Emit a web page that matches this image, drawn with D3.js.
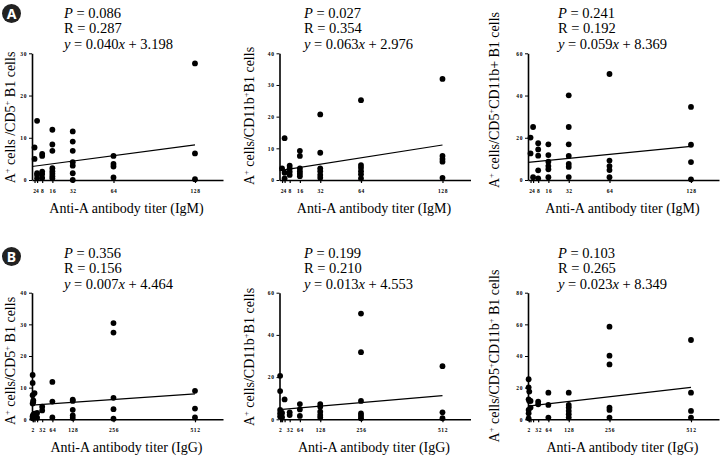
<!DOCTYPE html>
<html lang="en">
<head>
<meta charset="utf-8">
<script src="https://d3js.org/d3.v7.min.js"></script>
<style>
  body { margin: 0; background: #fff; }
  text { font-family: "Liberation Serif", "Times New Roman", serif; fill: #000; }
  .tick text { font-size: 5.5px; font-weight: bold; letter-spacing: 0.6px; }
</style>
</head>
<body>
<div id="chart"></div>
<script>
// ---- data ----
// panel A: IgM titer, panel B: IgG titer
var aTicks = [2, 4, 8, 16, 32, 64, 128];
var bTicks = [2, 4, 8, 16, 32, 64, 128, 256, 512];
var bTickLabels = [2, 32, 64, 128, 256, 512];

var a1Titer = [2,2,4,4,4,4,8,8,8,8,8,16,16,16,16,16,16,16,16,32,32,32,32,32,32,32,64,64,64,64,128,128,128];
var a1Cells = [7.7,5.0,14.0,1.6,1.2,0.4,6.2,5.7,2.0,1.4,0.5,11.9,8.4,6.9,2.8,2.1,1.5,0.9,0.4,11.5,9.1,6.9,4.2,3.4,1.6,0,5.7,3.8,3.2,0.6,27.6,6.3,0.2];

var a2Titer = [2,4,4,4,8,8,8,8,16,16,16,16,16,16,32,32,32,32,32,32,64,64,64,64,64,64,128,128,128,128,128];
var a2Cells = [3.7,13.2,2.3,0.5,4.5,3.7,2.6,1.6,9.2,7.6,3.7,2.8,2.0,1.2,20.7,8.6,3.7,2.8,1.6,0.7,25.2,4.7,3.9,2.8,1.8,0.5,31.9,7.6,6.6,5.8,0.7];

var a3Titer = [2,2,4,4,8,8,8,8,8,16,16,16,16,16,16,32,32,32,32,32,32,32,64,64,64,64,64,128,128,128,128];
var a3Cells = [20.1,12.6,25.1,1.3,17.4,14.5,11.5,4.6,0.8,16.9,11.8,8.7,6.6,5.1,1.3,40.1,25.1,16.9,11.4,7.6,6.2,1.4,50.2,9.2,6.6,4.7,1.3,34.6,16.7,8.5,0.3];

var b1Titer = [2,2,2,2,2,2,4,4,4,8,8,8,16,16,32,32,64,64,64,128,128,128,128,128,256,256,256,256,256,512,512,512];
var b1Cells = [14,11.5,7.6,5.0,1.0,0.3,6.0,5.5,1.5,8.3,1.8,0.8,2.0,0.5,4.0,2.8,11.8,5.6,0.6,6.2,5.8,3.0,1.2,0.4,30.4,27.4,6.8,3.2,0.2,9.0,3.4,0.6];

var b2Titer = [2,2,2,2,2,4,4,8,8,16,32,32,64,64,64,128,128,128,128,128,256,256,256,256,256,256,512,512,512];
var b2Cells = [20.6,13.4,4.4,2.8,1.3,3.6,2.0,3.0,1.0,9.4,3.3,2.0,7.2,4.7,1.6,7.2,6.0,3.6,2.0,0.9,50.1,31.8,8.7,2.8,1.7,0.5,25.2,3.3,0.5];

var b3Titer = [2,2,4,2,4,2,2,2,8,8,32,32,64,64,64,128,128,128,128,128,128,256,256,256,256,256,256,512,512,512,512];
var b3Cells = [25.3,20.2,17.5,12.6,11.6,5.9,3.8,0.6,11.6,7.4,11.2,9.5,16.8,9.1,1.1,16.8,9.1,7.4,5.3,3.2,1.1,58.5,40.2,34.7,7.4,5.9,1.1,50.1,16.8,5.3,1.1];

// regression stats printed on each panel
var pValues = ["0.086", "0.027", "0.241", "0.356", "0.199", "0.103"];
var rValues = ["0.287", "0.354", "0.192", "0.156", "0.210", "0.265"];
var slopes = [0.040, 0.063, 0.059, 0.007, 0.013, 0.023];
var intercepts = [3.198, 2.976, 8.369, 4.464, 4.553, 8.349];

var yMax = [30, 40, 60, 40, 60, 80];
var yStep = [10, 10, 20, 10, 20, 20];

// y axis titles: [text, superscript?] pieces
var yTitles = [
  [["A", 0], ["+", 1], [" cells /CD5", 0], ["+", 1], [" B1 cells", 0]],
  [["A", 0], ["+", 1], [" cells/CD11b", 0], ["+", 1], ["B1 cells", 0]],
  [["A", 0], ["+", 1], [" cells/CD5", 0], ["+", 1], ["CD11b+ B1 cells", 0]],
  [["A", 0], ["+", 1], [" cells/CD5", 0], ["+", 1], [" B1 cells", 0]],
  [["A", 0], ["+", 1], [" cells/CD11b", 0], ["+", 1], ["B1 cells", 0]],
  [["A", 0], ["+", 1], [" cells/CD5", 0], ["+", 1], ["CD11b", 0], ["+", 1], [" B1 cells", 0]]
];
var xTitles = ["Anti-A antibody titer (IgM)", "Anti-A antibody titer (IgG)"];

var titers = [a1Titer, a2Titer, a3Titer, b1Titer, b2Titer, b3Titer];
var cells = [a1Cells, a2Cells, a3Cells, b1Cells, b2Cells, b3Cells];

// ---- layout ----
var W = 721, H = 457;
var colLeft = [32, 279.5, 528];
var plotW = 191;
var rowTop = [53.3, 292.7], rowBottom = [180, 419.3];
var statX = [64, 304, 558];
var statBase = [18, 258];
var yTitleX = [15, 254, 499];
var yTitleCY = [[117.5, 116, 100], [361, 357, 356]];

var svg = d3.select("#chart").append("svg")
  .attr("width", W)
  .attr("height", H);

function drawPanel(p) {
  var row = Math.floor(p / 3), col = p % 3;
  var left = colLeft[col], pTop = rowTop[row], pBottom = rowBottom[row];

  var x = d3.scaleLinear()
    .domain([0, row == 0 ? 150 : 600])
    .range([left, left + plotW]);
  var y = d3.scaleLinear()
    .domain([0, yMax[p]])
    .range([pBottom, pTop]);

  var g = svg.append("g");

  // x axis
  var xAxis = d3.axisBottom(x)
    .tickValues(row == 0 ? aTicks : bTicks)
    .tickSizeInner(3).tickSizeOuter(0).tickPadding(6)
    .tickFormat(function (d) {
      if (row == 0) return d;
      return bTickLabels.indexOf(d) >= 0 ? d : "";
    });
  g.append("g")
    .attr("transform", "translate(0," + pBottom + ")")
    .call(xAxis)
    .call(function (s) {
      s.select(".domain").attr("stroke-width", 1.6);
      s.selectAll(".tick line").attr("stroke-width", 1.2);
    });

  // y axis
  var yAxis = d3.axisLeft(y)
    .tickValues(d3.range(0, yMax[p] + 0.01, yStep[p]))
    .tickSizeInner(3).tickSizeOuter(0).tickPadding(2);
  g.append("g")
    .attr("transform", "translate(" + left + ",0)")
    .call(yAxis)
    .call(function (s) {
      s.select(".domain").attr("stroke-width", 1.6);
      s.selectAll(".tick line").attr("stroke-width", 1);
    });

  // points
  var pts = titers[p].map(function (t, i) { return { t: t, v: cells[p][i] }; });
  g.append("g").selectAll("circle")
    .data(pts)
    .enter()
    .append("circle")
    .attr("cx", function (d) { return x(d.t); })
    .attr("cy", function (d) { return y(d.v); })
    .attr("r", 2.9)
    .attr("fill", "#000");

  // regression line
  var xEnd = row == 0 ? 128 : 512;
  var line = d3.line()
    .x(function (d) { return x(d); })
    .y(function (d) { return y(slopes[p] * d + intercepts[p]); });
  g.append("path")
    .datum([0, xEnd])
    .attr("d", line)
    .attr("fill", "none")
    .attr("stroke", "#000")
    .attr("stroke-width", 1.2);

  // stats text
  var sx = statX[col], sb = statBase[row];
  var t1 = g.append("text").attr("x", sx).attr("y", sb).style("font-size", "14.5px");
  t1.append("tspan").style("font-style", "italic").text("P");
  t1.append("tspan").text(" = " + pValues[p]);
  g.append("text").attr("x", sx).attr("y", sb + 15.3).style("font-size", "14.5px")
    .text("R = " + rValues[p]);
  var t3 = g.append("text").attr("x", sx).attr("y", sb + 30.6).style("font-size", "14.5px");
  t3.append("tspan").style("font-style", "italic").text("y");
  t3.append("tspan").text(" = " + slopes[p].toFixed(3));
  t3.append("tspan").style("font-style", "italic").text("x");
  t3.append("tspan").text(" + " + intercepts[p].toFixed(3));

  // x title
  g.append("text")
    .attr("x", left + plotW / 2 - 1)
    .attr("y", pBottom + 33)
    .attr("text-anchor", "middle")
    .style("font-size", "14px")
    .text(xTitles[row]);

  // y title
  var yt = g.append("text")
    .attr("transform", "translate(" + yTitleX[col] + "," + yTitleCY[row][col] + ") rotate(-90)")
    .attr("text-anchor", "middle")
    .style("font-size", "14px");
  yTitles[p].forEach(function (piece) {
    var ts = yt.append("tspan").text(piece[0]);
    if (piece[1]) ts.attr("baseline-shift", "super").style("font-size", "8.5px");
  });
}

for (var p = 0; p < 6; p++) drawPanel(p);

// panel badges
var badges = [["A", 11.5, 13.5], ["B", 11.5, 256.5]];
badges.forEach(function (b) {
  svg.append("circle").attr("cx", b[1]).attr("cy", b[2]).attr("r", 9.5).attr("fill", "#222");
  svg.append("text")
    .attr("x", b[1]).attr("y", b[2] + 5)
    .attr("text-anchor", "middle")
    .style("font-family", "'Noto Sans', Arial, sans-serif")
    .style("font-weight", "bold")
    .style("font-size", "14px")
    .style("fill", "#fff")
    .text(b[0]);
});
</script>
</body>
</html>
